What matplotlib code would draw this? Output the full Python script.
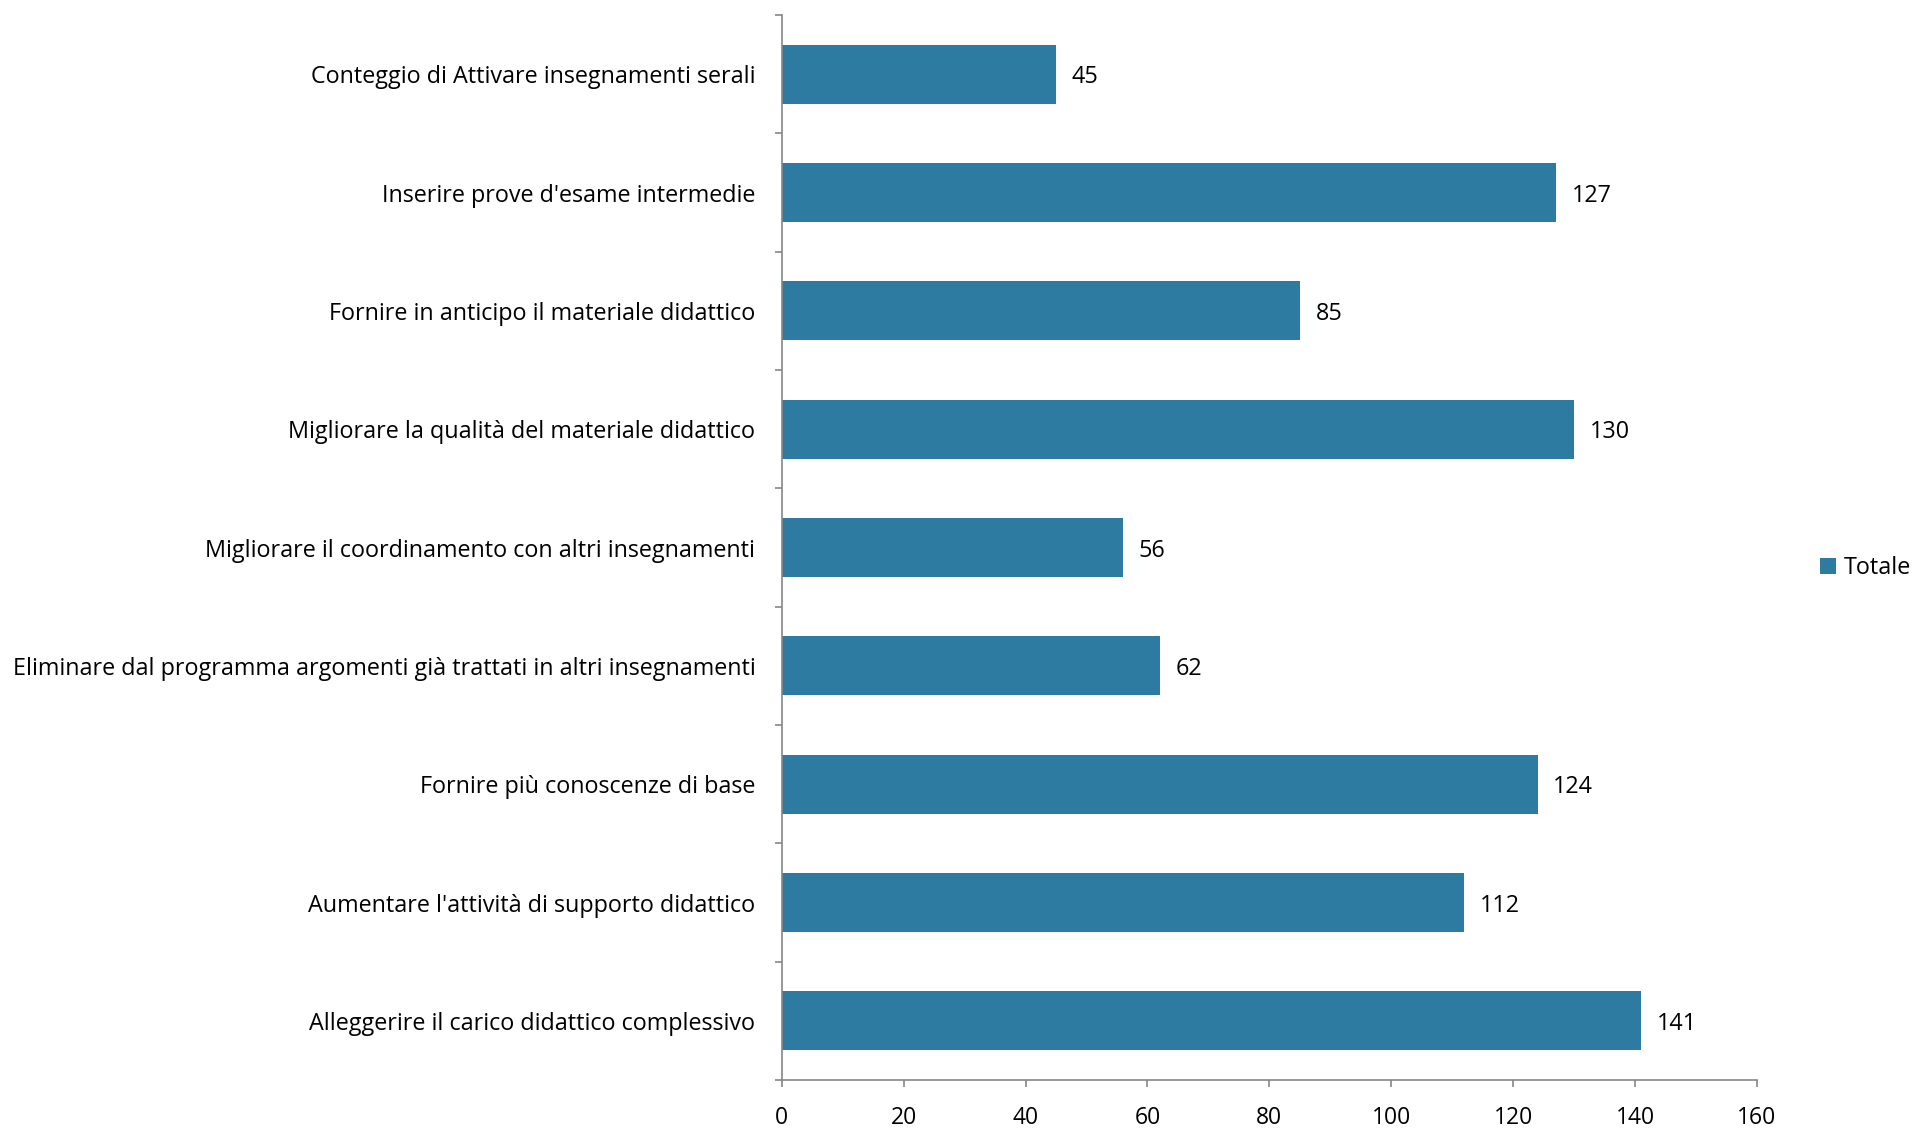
import numpy as np
import matplotlib
matplotlib.use("Agg")
import matplotlib.pyplot as plt

# categories from bottom to top
categorie = [
    "Alleggerire il carico didattico complessivo",
    "Aumentare l'attività di supporto didattico",
    "Fornire più conoscenze di base",
    "Eliminare dal programma argomenti già trattati in altri insegnamenti",
    "Migliorare il coordinamento con altri insegnamenti",
    "Migliorare la qualità del materiale didattico",
    "Fornire in anticipo il materiale didattico",
    "Inserire prove d'esame intermedie",
    "Conteggio di Attivare insegnamenti serali",
]
valori = [141, 112, 124, 62, 56, 130, 85, 127, 45]
x_ticks = [0, 20, 40, 60, 80, 100, 120, 140, 160]

colore = "#2E7BA2"
grigio = "#868686"
plt.rcParams['font.family'] = ['Open Sans', 'DejaVu Sans']

fig = plt.figure(figsize=(19.16, 11.29), dpi=100)
ax = fig.add_axes([0.408, 0.0434, 0.509, 0.9433])

y = np.arange(len(categorie))
barre = ax.barh(y, valori, height=0.5, color=colore, label="Totale")

for yi, v in zip(y, valori):
    ax.text(v + 2.6, yi, str(v), va='center_baseline', ha='left', fontsize=16.8, color='black')

ax.set_xlim(0, 160)
ax.set_ylim(-0.5, len(categorie) - 0.5)
ax.set_xticks(x_ticks)
ax.set_xticklabels([str(t) for t in x_ticks], fontsize=16.5)
ax.set_yticks(y)
ax.set_yticklabels(categorie, fontsize=16.8)
ax.set_yticks(np.arange(-0.5, len(categorie), 1), minor=True)
ax.tick_params(axis='y', which='major', length=0, pad=19)
ax.tick_params(axis='y', which='minor', length=5, color=grigio, width=1.2)
ax.tick_params(axis='x', length=5, color=grigio, width=1.2, pad=14)

for s in ['top', 'right']:
    ax.spines[s].set_visible(False)
for s in ['left', 'bottom']:
    ax.spines[s].set_color(grigio)
    ax.spines[s].set_linewidth(1.2)

fig.legend(handles=[barre], labels=["Totale"], loc='center left',
           bbox_to_anchor=(0.939, 0.497), frameon=False, fontsize=16.8,
           handlelength=0.7, handleheight=0.7, handletextpad=0.3)

fig.savefig("out.png", dpi=100)
